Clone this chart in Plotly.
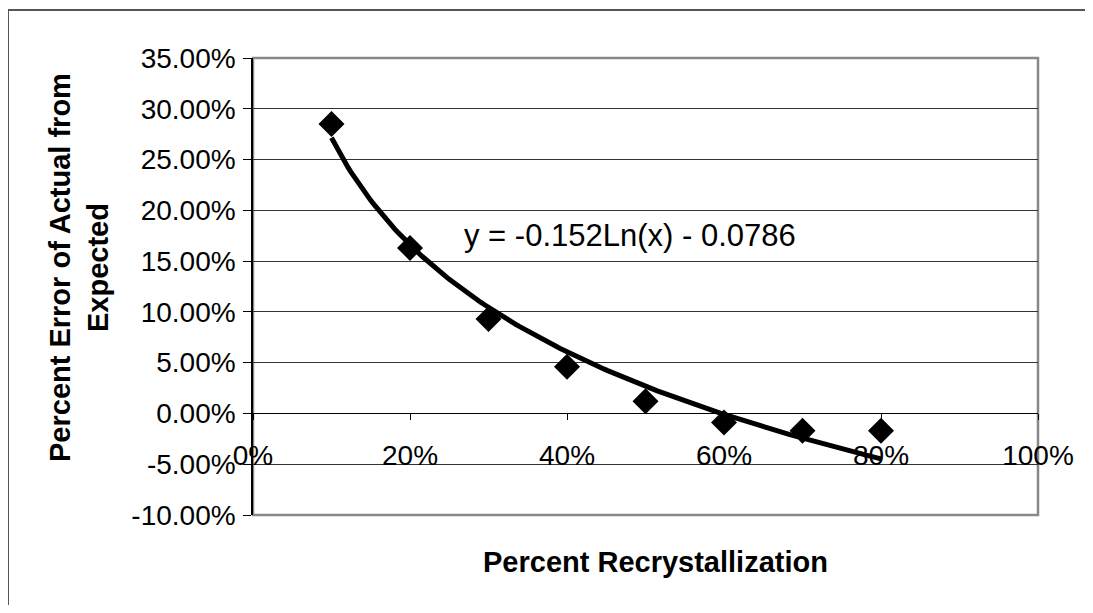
import numpy as np
import plotly.graph_objects as go

# Data
recryst = [0.10, 0.20, 0.30, 0.40, 0.50, 0.60, 0.70, 0.80]
pct_error = [0.285, 0.163, 0.093, 0.046, 0.012, -0.009, -0.017, -0.017]

# Trendline shown on chart: y = -0.152 Ln(x) - 0.0786
trend_a = -0.152
trend_b = -0.0786
trend_x = np.linspace(min(recryst), max(recryst), 200)
trend_y = trend_a * np.log(trend_x) + trend_b

y_ticks = [-0.10, -0.05, 0.0, 0.05, 0.10, 0.15, 0.20, 0.25, 0.30, 0.35]
x_ticks = [0.0, 0.2, 0.4, 0.6, 0.8, 1.0]
y_labels = [f"{v*100:.2f}%" for v in y_ticks]
x_labels = [f"{v*100:.0f}%" for v in x_ticks]
y_range = [-0.10, 0.35]
x_range = [0.0, 1.0]

FONT = "Liberation Sans, Arial, sans-serif"

OFF = 8  # page body offset
W, H = 1077, 597
ml, mt = 253 - OFF, 58 - OFF
pw, ph = 785, 457
mr, mb = W - ml - pw, H - mt - ph

def px_x(p):
    return (p - OFF - ml) / pw

def px_y(p):
    return (mt + ph - (p - OFF)) / ph

fig = go.Figure()

fig.add_trace(go.Scatter(
    x=trend_x, y=trend_y, mode="lines",
    line=dict(color="black", width=5),
    showlegend=False, hoverinfo="skip"))

fig.add_trace(go.Scatter(
    x=recryst, y=pct_error, mode="markers",
    marker=dict(symbol="diamond", size=20, color="black"),
    showlegend=False))

zero_pos = (0 - y_range[0]) / (y_range[1] - y_range[0])

fig.update_layout(
    width=W, height=H,
    margin=dict(l=ml, r=mr, t=mt, b=mb),
    paper_bgcolor="white", plot_bgcolor="white",
    font=dict(family=FONT, size=28, color="black"),
    xaxis=dict(
        range=x_range, tickvals=x_ticks, ticktext=x_labels,
        showgrid=False, zeroline=False,
        anchor="free", position=zero_pos,
        showline=True, linecolor="black", linewidth=1,
        ticks="outside", ticklen=6, tickcolor="black",
        tickfont=dict(family=FONT, size=28),
        ticklabelstandoff=11,
    ),
    yaxis=dict(
        range=y_range, tickvals=y_ticks, ticktext=y_labels,
        showgrid=True, gridcolor="#333333", gridwidth=1,
        zeroline=False,
        showline=True, linecolor="black", linewidth=1.5,
        ticks="outside", ticklen=8, tickcolor="black",
        tickfont=dict(family=FONT, size=28),
        ticklabelstandoff=2,
    ),
    shapes=[
        dict(type="rect", xref="paper", yref="paper", x0=0, x1=1, y0=0, y1=1,
             line=dict(color="#888888", width=2.5), layer="below"),
        dict(type="line", xref="paper", yref="paper",
             x0=px_x(8), x1=px_x(8), y0=px_y(10), y1=px_y(620),
             line=dict(color="#555555", width=2)),
        dict(type="line", xref="paper", yref="paper",
             x0=px_x(8), x1=px_x(1100), y0=px_y(10), y1=px_y(10),
             line=dict(color="#555555", width=2)),
    ],
    annotations=[
        dict(text="y = -0.152Ln(x) - 0.0786", xref="paper", yref="paper",
             x=px_x(462), y=px_y(235), xanchor="left", yanchor="middle",
             showarrow=False, font=dict(family=FONT, size=31)),
        dict(text="<b>Percent Recrystallization</b>", xref="paper", yref="paper",
             x=px_x(655), y=px_y(562), xanchor="center", yanchor="middle",
             showarrow=False, font=dict(family=FONT, size=29)),
        dict(text="<b>Percent Error of Actual from<br>Expected</b>", xref="paper", yref="paper",
             x=px_x(79), y=px_y(268), xanchor="center", yanchor="middle",
             textangle=-90, showarrow=False, font=dict(family=FONT, size=29)),
    ],
)

fig.write_html("out.html")
